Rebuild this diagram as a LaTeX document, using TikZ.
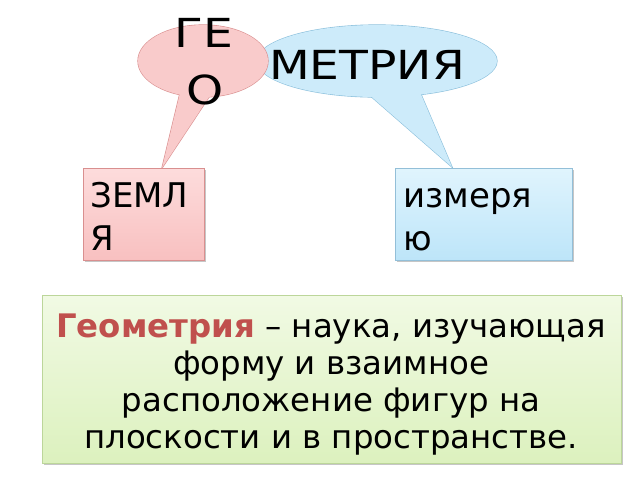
\documentclass[tikz,border=0pt]{standalone}
\usepackage{fontspec}
\setmainfont{DejaVu Sans}
\usetikzlibrary{shadows}
\definecolor{pinkfill}{HTML}{F9CBCB}
\definecolor{pinkline}{HTML}{D98F8F}
\definecolor{bluefill}{HTML}{CDEBFA}
\definecolor{blueline}{HTML}{8CC0DC}
\definecolor{pinktop}{HTML}{FDDCDC}
\definecolor{pinkbot}{HTML}{F8C0C0}
\definecolor{bluetop}{HTML}{E0F4FD}
\definecolor{bluebot}{HTML}{BDE5F9}
\definecolor{bluebox}{HTML}{93BFD8}
\definecolor{greentop}{HTML}{F1FAE4}
\definecolor{greenbot}{HTML}{DCF1BE}
\definecolor{greenline}{HTML}{BCD69A}
\definecolor{termred}{HTML}{C0504D}
\tikzset{
  calloutline/.style={line width=0.9pt},
  wordbox/.style={draw, line width=0.75pt, minimum width=0pt, inner sep=0pt,
    drop shadow={shadow xshift=1.2pt, shadow yshift=-1.2pt, opacity=0.45, fill=gray}},
  bigtxt/.style={inner sep=0pt, anchor=base, font=\fontsize{30}{36}\selectfont, xscale=1.18},
  midtxt/.style={inner sep=0pt, anchor=base west, font=\fontsize{25.5}{30}\selectfont},
  deftxt/.style={inner sep=0pt, anchor=base, font=\fontsize{24.3}{30}\selectfont}
}
\begin{document}
\begin{tikzpicture}[x=0.75pt,y=-0.75pt]
\useasboundingbox (0,0) rectangle (640,480);
% blue callout
\coordinate (btip) at (452,167);
\draw[blueline, calloutline] (377,61) ellipse [x radius=90pt, y radius=27pt];
\draw[blueline, calloutline] (366,92) -- (btip) -- (420,92);
\fill[bluefill] (377,61) ellipse [x radius=90pt, y radius=27pt];
\fill[bluefill] (366,92) -- (btip) -- (420,92) -- cycle;
% pink callout
\coordinate (ptip) at (162,168);
\draw[pinkline, calloutline] (203,61) ellipse [x radius=48.75pt, y radius=27pt];
\draw[pinkline, calloutline] (180,93) -- (ptip) -- (211,94);
\fill[pinkfill] (203,61) ellipse [x radius=48.75pt, y radius=27pt];
\fill[pinkfill] (180,93) -- (ptip) -- (211,94) -- cycle;
% callout texts
\node[bigtxt] (ge) at (204,47) {ГЕ};
\node[bigtxt] (o) at (205,104) {О};
\node[bigtxt] (metr) at (367,79) {МЕТРИЯ};
% word boxes
\path[wordbox, draw=pinkline, top color=pinktop, bottom color=pinkbot] (83,168) rectangle (204,260);
\path[wordbox, draw=bluebox, top color=bluetop, bottom color=bluebot] (395,168) rectangle (572,260);
\node[midtxt] (zeml1) at (90,207) {ЗЕМЛ};
\node[midtxt] (zeml2) at (90,250) {Я};
\node[midtxt] (izm1) at (403,207) {измеря};
\node[midtxt] (izm2) at (403,250) {ю};
% definition box
\path[wordbox, draw=greenline, top color=greentop, bottom color=greenbot] (42,295) rectangle (621,463);
\node[deftxt] (d1) at (331,337) {\textcolor{termred}{\textbf{Геометрия}} – наука, изучающая};
\node[deftxt] (d2) at (331,374) {форму и взаимное};
\node[deftxt] (d3) at (331,411) {расположение фигур на};
\node[deftxt] (d4) at (331,448) {плоскости и в пространстве.};
\end{tikzpicture}
\end{document}
